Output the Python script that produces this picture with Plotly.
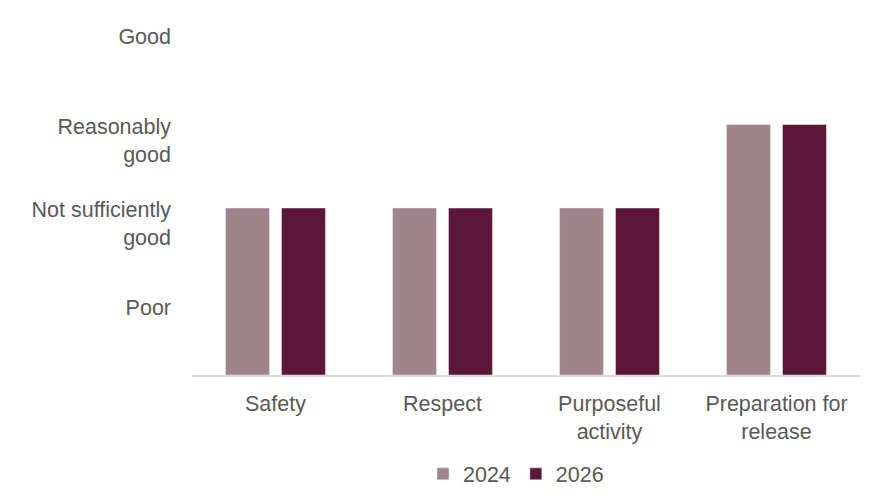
import plotly.graph_objects as go

categories = ["Safety", "Respect", "Purposeful<br>activity", "Preparation for<br>release"]
values_2024 = [2, 2, 2, 3]
values_2026 = [2, 2, 2, 3]
tick_labels = ["Poor", "Not sufficiently<br>good", "Reasonably<br>good", "Good"]
tick_positions = [0.81, 1.81, 2.81, 4.05]

font_color = "#595959"
fig = go.Figure()
fig.add_trace(go.Bar(x=categories, y=values_2024, name="2024", marker_color="#A0848C"))
fig.add_trace(go.Bar(x=categories, y=values_2026, name="2026", marker_color="#5C1738"))

fig.update_layout(
    width=884, height=502,
    margin=dict(l=192, r=24, t=16, b=127, autoexpand=False),
    paper_bgcolor="white", plot_bgcolor="white",
    font=dict(family="Liberation Sans, Arial, sans-serif", size=21.5, color=font_color),
    barmode="group", bargap=0.33, bargroupgap=0.214,
    showlegend=True,
    legend=dict(orientation="h", x=0.485, xanchor="center", yref="container", y=0.056,
                yanchor="middle", font=dict(size=21.5, color=font_color), itemwidth=30,
                traceorder="normal"),
)
fig.update_xaxes(showline=True, linecolor="#D9D9D9", linewidth=1.5, ticks="", showgrid=False,
                 automargin=False, ticklabelstandoff=8)
fig.update_yaxes(range=[0, 4.3], tickvals=tick_positions, ticktext=tick_labels, automargin=False,
                 showgrid=False, zeroline=False, showline=False, ticks="", ticklabelstandoff=20)

fig.write_html("out.html")
